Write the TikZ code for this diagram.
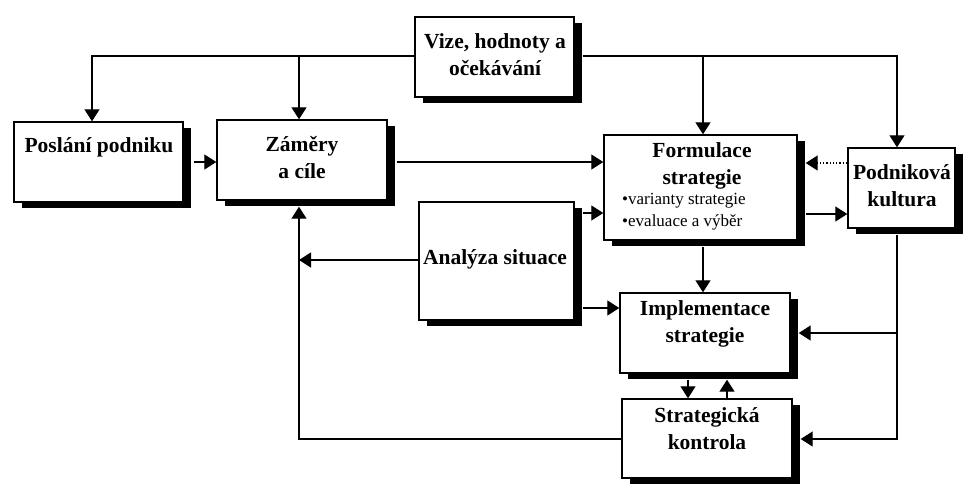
\documentclass[tikz,border=0pt]{standalone}
\usepackage{fontspec}
\setmainfont{Liberation Serif}
\usetikzlibrary{arrows.meta,shadows}
\begin{document}
\begin{tikzpicture}[x=1pt,y=-1pt,
  bx/.style={draw, fill=white, line width=1.4pt, inner sep=0pt,
    drop shadow={shadow xshift=8pt, shadow yshift=-6pt, fill=black, opacity=1}},
  lbl/.style={font=\bfseries\fontsize{21.5}{27}\selectfont, align=center, inner sep=0pt},
  sml/.style={font=\fontsize{17}{22}\selectfont, align=left, inner sep=0pt},
  conn/.style={line width=1.3pt},
  arr/.style={conn, -{Triangle[length=12pt,width=15pt]}},
]
\useasboundingbox (0,0) rectangle (978,493);
% boxes
\node[bx, minimum width=159pt, minimum height=80pt] (vize) at (494.5,57) {};
\node[bx, minimum width=169pt, minimum height=80pt] (posl) at (98.5,162) {};
\node[bx, minimum width=170pt, minimum height=80pt] (zam) at (302,160) {};
\node[bx, minimum width=193pt, minimum height=105pt] (form) at (700.5,187.5) {};
\node[bx, minimum width=107pt, minimum height=80pt] (podn) at (901.5,188) {};
\node[bx, minimum width=155pt, minimum height=118pt] (anal) at (496.5,261) {};
\node[bx, minimum width=170pt, minimum height=80pt] (impl) at (705,333) {};
\node[bx, minimum width=170pt, minimum height=79pt] (strat) at (707,438.5) {};
% texts
\node[lbl] (tvize) at (495,55) {Vize, hodnoty a\\očekávání};
\node[lbl] (tposl) at (99,147) {Poslání podniku};
\node[lbl] (tzam) at (302,158) {Záměry\\a cíle};
\node[lbl] (tform) at (702,166) {Formulace\\strategie};
\node[sml, anchor=west] (tbul) at (622,212) {•varianty strategie\\•evaluace a výběr};
\node[lbl] (tpodn) at (902,186) {Podniková\\kultura};
\node[lbl] (tanal) at (495,259) {Analýza situace};
\node[lbl] (timpl) at (705,324) {Implementace\\strategie};
\node[lbl] (tstrat) at (707,429) {Strategická\\kontrola};
% coordinates
\coordinate (vl) at (92,56);
\coordinate (vz) at (299,56);
\coordinate (vf) at (703,56);
\coordinate (vr) at (897,56);
\coordinate (lb) at (299,439);
\coordinate (rb) at (897,439);
\coordinate (ri) at (897,333);
\coordinate (la) at (299,260);
% connectors
\draw[arr] (vize.west |- vl) -- (vl) -- (vl |- posl.north);
\draw[arr] (vz) -- (vz |- zam.north);
\draw[arr] ([xshift=8pt]vize.east |- vr) -- (vr) -- (vr |- podn.north);
\draw[arr] (vf) -- (vf |- form.north);
\draw[arr] ([xshift=10pt]posl.east |- 0,162) -- (zam.west |- 0,162);
\draw[arr] ([xshift=9pt]zam.east |- 0,162) -- (form.west |- 0,162);
\draw[conn, dotted, -{Triangle[length=12pt,width=15pt]}] (podn.west |- 0,163) -- ([xshift=8pt]form.east |- 0,163);
\draw[arr] ([xshift=8pt]form.east |- 0,214) -- (podn.west |- 0,214);
\draw[arr] ([xshift=8pt]anal.east |- 0,213) -- (form.west |- 0,213);
\draw[arr] (anal.west |- la) -- (la);
\draw[arr] (strat.west |- lb) -- (lb) -- ([yshift=-6pt]zam.south -| lb);
\draw[arr] ([xshift=8pt]anal.east |- 0,308) -- (impl.west |- 0,308);
\draw[arr] ([yshift=-6pt]form.south -| vf) -- (impl.north -| vf);
\draw[arr] ([yshift=-6pt]impl.south -| 688,0) -- (strat.north -| 688,0);
\draw[arr] (strat.north -| 727,0) -- ([yshift=-6pt]impl.south -| 727,0);
\draw[arr] ([yshift=-6pt]podn.south -| vr) -- (rb) -- ([xshift=8pt]strat.east |- rb);
\draw[arr] (ri) -- ([xshift=8pt]impl.east |- ri);
\end{tikzpicture}
\end{document}
